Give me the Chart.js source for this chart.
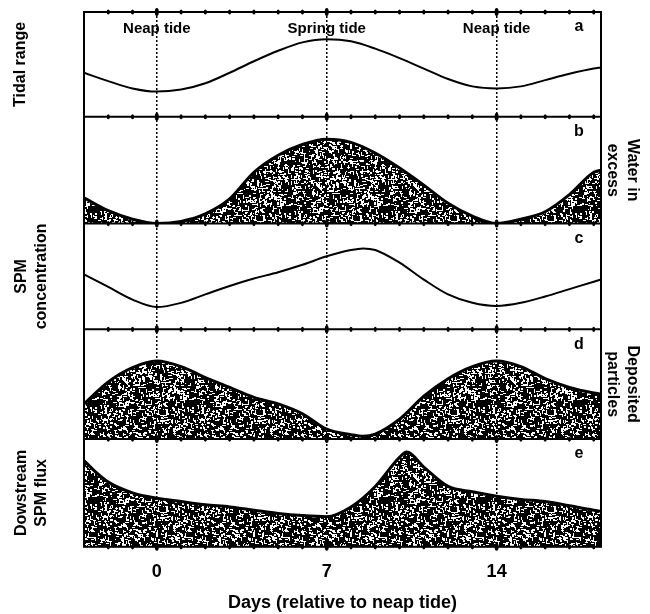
<!DOCTYPE html>
<html>
<head>
<meta charset="utf-8">
<style>
  html, body { margin: 0; padding: 0; background: #ffffff; }
  #wrap { width: 650px; height: 614px; }
</style>
<script src="https://cdn.jsdelivr.net/npm/chart.js@4/dist/chart.umd.min.js"></script>
</head>
<body>
<div id="wrap"><canvas id="tideChart" width="650" height="614"></canvas></div>
<script>
// day marks on the x axis
const dayLabels = [0, 7, 14];
const tideNames = ["Neap tide", "Spring tide", "Neap tide"];

// a - tidal range
const tideDays = [-3, -2, -1, 0, 1, 2, 3, 4, 5, 6, 7, 8, 9, 10, 11, 12, 13, 14, 15, 16, 17, 18, 18.3];
const tidalRange = [0.42, 0.34, 0.27, 0.24, 0.26, 0.32, 0.42, 0.53, 0.63, 0.71, 0.74, 0.72, 0.65, 0.56, 0.46, 0.36, 0.29, 0.27, 0.29, 0.35, 0.41, 0.46, 0.47];

// b - water in excess
const waterExcess = [0.24, 0.12, 0.04, 0.0, 0.02, 0.09, 0.23, 0.48, 0.64, 0.74, 0.79, 0.76, 0.66, 0.52, 0.36, 0.19, 0.07, 0.0, 0.04, 0.11, 0.27, 0.48, 0.5];

// c - SPM concentration
const spmDays = [-3, -2, -1, 0, 1, 2, 3, 4, 5, 6, 7, 8, 8.5, 9, 10, 11, 12, 13, 14, 15, 16, 17, 18, 18.3];
const spmConc = [0.52, 0.40, 0.28, 0.21, 0.25, 0.33, 0.41, 0.48, 0.54, 0.61, 0.69, 0.75, 0.765, 0.75, 0.63, 0.47, 0.33, 0.25, 0.22, 0.25, 0.31, 0.38, 0.45, 0.47];

// d - deposited particles
const depDays = [-3, -2, -1, 0, 1, 2, 3, 4, 5, 6, 7, 8, 8.5, 9, 10, 11, 12, 13, 14, 15, 16, 17, 18, 18.3];
const deposited = [0.32, 0.52, 0.65, 0.71, 0.66, 0.56, 0.47, 0.38, 0.32, 0.23, 0.09, 0.04, 0.025, 0.045, 0.18, 0.39, 0.55, 0.66, 0.71, 0.66, 0.55, 0.47, 0.42, 0.41];

// e - downstream SPM flux
const fluxDays = [-3, -2.5, -2, -1, 0, 1, 2, 3, 4, 5, 6, 7, 8, 9, 10, 10.3, 11, 12, 13, 14, 15, 16, 17, 18, 18.3];
const spmFlux = [0.80, 0.69, 0.60, 0.50, 0.45, 0.42, 0.39, 0.37, 0.34, 0.31, 0.29, 0.28, 0.37, 0.56, 0.83, 0.88, 0.74, 0.56, 0.51, 0.47, 0.44, 0.42, 0.38, 0.34, 0.33];

const panelLetters = ["a", "b", "c", "d", "e"];

function pairs(xs, ys) {
  return xs.map((x, i) => ({ x, y: ys[i] }));
}

const canvas = document.getElementById("tideChart");
const ctx = canvas.getContext("2d");

// black stipple like the scanned figure
function makeStipple() {
  const size = 97;
  const c = document.createElement("canvas");
  c.width = size;
  c.height = size;
  const g = c.getContext("2d");
  g.fillStyle = "#000";
  g.fillRect(0, 0, size, size);
  g.fillStyle = "#fff";
  for (let y = 0; y < size; y++) {
    for (let x = 0; x < size; x++) {
      let h = Math.imul(x + 7, 374761393) + Math.imul(y + 3, 668265263);
      h = Math.imul(h ^ (h >>> 13), 1274126177);
      h = (h ^ (h >>> 16)) >>> 0;
      const v = h % 1000;
      if (v < 45) g.fillRect(x, y, 3, 1);
      else if (v < 80) g.fillRect(x, y, 1, 3);
      else if (v < 105) g.fillRect(x, y, 2, 2);
      else if (v < 125) g.fillRect(x, y, 1, 1);
    }
  }
  return ctx.createPattern(c, "repeat");
}
const stipple = makeStipple();

const fontName = '"Liberation Sans", Arial, sans-serif';

function panelAxis(weight) {
  return {
    type: "linear",
    position: "left",
    stack: "panels",
    stackWeight: weight,
    min: 0,
    max: 1,
    ticks: { display: false },
    grid: { display: false },
    border: { display: false }
  };
}

function curve(data, axis) {
  return {
    data,
    yAxisID: axis,
    borderColor: "#000",
    borderWidth: 2,
    pointRadius: 0,
    cubicInterpolationMode: "monotone",
    fill: false
  };
}

function area(data, axis) {
  return {
    data,
    yAxisID: axis,
    borderColor: "#000",
    borderWidth: 3,
    backgroundColor: stipple,
    pointRadius: 0,
    cubicInterpolationMode: "monotone",
    fill: "start"
  };
}

const decorations = {
  id: "decorations",
  afterDatasetsDraw(chart) {
    const { ctx, chartArea, scales } = chart;
    const x = scales.x;
    const tops = ["yA", "yB", "yC", "yD", "yE"].map((id) => scales[id].top);
    const lines = tops.concat([chartArea.bottom]);
    ctx.save();
    ctx.fillStyle = "#000";
    ctx.strokeStyle = "#000";
    ctx.lineWidth = 2;
    lines.forEach((ly, i) => {
      if (i > 0 && i < lines.length - 1) {
        ctx.beginPath();
        ctx.moveTo(chartArea.left, ly);
        ctx.lineTo(chartArea.right, ly);
        ctx.stroke();
      }
      for (let d = -2; d <= 18; d++) {
        const px = x.getPixelForValue(d);
        const big = dayLabels.includes(d);
        ctx.beginPath();
        ctx.ellipse(px, ly, big ? 2 : 1.6, big ? 4 : 2.6, 0, 0, Math.PI * 2);
        ctx.fill();
      }
    });
    ctx.lineWidth = 2;
    ctx.strokeRect(chartArea.left, chartArea.top, chartArea.right - chartArea.left, chartArea.bottom - chartArea.top);
    ctx.restore();
  },
  afterDraw(chart) {
    const { ctx, chartArea, scales } = chart;
    const x = scales.x;
    ctx.save();
    ctx.fillStyle = "#000";
    ctx.textAlign = "center";
    ctx.textBaseline = "middle";

    ctx.font = "bold 15px " + fontName;
    dayLabels.forEach((d, i) => {
      ctx.fillText(tideNames[i], x.getPixelForValue(d), chartArea.top + 17);
    });

    ctx.font = "bold 16px " + fontName;
    ["yA", "yB", "yC", "yD", "yE"].forEach((id, i) => {
      ctx.fillText(panelLetters[i], chartArea.right - 22, scales[id].top + 15);
    });

    // side labels
    ctx.font = "bold 16px " + fontName;
    const leftLabel = (lines, id) => {
      const s = scales[id];
      const cy = (s.top + s.bottom) / 2;
      ctx.save();
      ctx.translate(0, cy);
      ctx.rotate(-Math.PI / 2);
      lines.forEach((t, i) => {
        const cx = lines.length === 1 ? 21 : 22 + i * 20;
        ctx.fillText(t, 0, cx);
      });
      ctx.restore();
    };
    const rightLabel = (lines, id) => {
      const s = scales[id];
      const cy = (s.top + s.bottom) / 2;
      ctx.save();
      ctx.translate(650, cy);
      ctx.rotate(Math.PI / 2);
      lines.forEach((t, i) => {
        ctx.fillText(t, 0, 18 + i * 20);
      });
      ctx.restore();
    };
    leftLabel(["Tidal range"], "yA");
    leftLabel(["SPM", "concentration"], "yC");
    leftLabel(["Dowstream", "SPM flux"], "yE");
    rightLabel(["Water in", "excess"], "yB");
    rightLabel(["Deposited", "particles"], "yD");
    ctx.restore();
  }
};

new Chart(canvas, {
  type: "line",
  data: {
    datasets: [
      curve(pairs(tideDays, tidalRange), "yA"),
      area(pairs(tideDays, waterExcess), "yB"),
      curve(pairs(spmDays, spmConc), "yC"),
      area(pairs(depDays, deposited), "yD"),
      area(pairs(fluxDays, spmFlux), "yE")
    ]
  },
  options: {
    responsive: false,
    animation: false,
    layout: {
      padding: { left: 76, right: 49, top: 12, bottom: 0 }
    },
    plugins: {
      legend: { display: false },
      tooltip: { enabled: false }
    },
    scales: {
      x: {
        type: "linear",
        position: "bottom",
        min: -3,
        max: 18.3,
        afterBuildTicks(axis) {
          axis.ticks = dayLabels.map((v) => ({ value: v }));
        },
        ticks: {
          color: "#000",
          padding: 14,
          font: { family: fontName, size: 18, weight: "bold" }
        },
        grid: {
          color: "#000",
          lineWidth: 1.5,
          drawTicks: false
        },
        border: { display: false, dash: [2, 2] },
        title: {
          display: true,
          text: "Days (relative to neap tide)",
          color: "#000",
          padding: { top: -4, bottom: 0 },
          font: { family: fontName, size: 18, weight: "bold" }
        }
      },
      // last defined left axis is placed on top of the stack
      yE: panelAxis(108),
      yD: panelAxis(110),
      yC: panelAxis(106),
      yB: panelAxis(107),
      yA: panelAxis(105)
    }
  },
  plugins: [decorations]
});
</script>
</body>
</html>
